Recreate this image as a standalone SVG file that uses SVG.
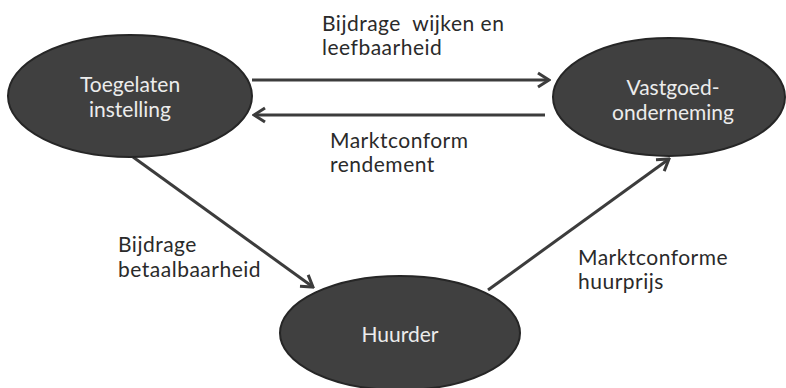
<svg xmlns="http://www.w3.org/2000/svg" width="786" height="388" viewBox="0 0 786 388">
<style>
.node{fill:#404040;stroke:#262626;stroke-width:2}
.nt{font-family:Lato,"Open Sans","Liberation Sans",sans-serif;font-size:21px;fill:#ececec;text-anchor:middle}
.lbl{font-family:Lato,"Open Sans","Liberation Sans",sans-serif;font-size:21px;letter-spacing:0.5px;fill:#2a2a2a}
.edge{stroke:#3c3c3c;stroke-width:3;fill:none}
</style>
<defs>
<marker id="arr" markerUnits="userSpaceOnUse" viewBox="-14 -9 16 18" refX="0" refY="0" markerWidth="16" markerHeight="18" orient="auto">
<path d="M-11,-7 L0,0 L-11,7" fill="none" stroke="#3c3c3c" stroke-width="3" stroke-linejoin="miter"/>
</marker>
</defs>
<rect width="786" height="388" fill="#ffffff"/>
<g id="connectors">
<line class="edge" x1="252" y1="80" x2="549" y2="80" marker-end="url(#arr)"/>
<line class="edge" x1="545" y1="115" x2="254" y2="115" marker-end="url(#arr)"/>
<line class="edge" x1="133" y1="157" x2="313" y2="287" marker-end="url(#arr)"/>
<line class="edge" x1="488" y1="290" x2="669" y2="159" marker-end="url(#arr)"/>
</g>
<g id="node-toegelaten">
<ellipse class="node" cx="130" cy="96" rx="122" ry="61"/>
<text class="nt" x="130" y="92">Toegelaten</text>
<text class="nt" x="130" y="117">instelling</text>
</g>
<g id="node-vastgoed">
<ellipse class="node" cx="669" cy="97" rx="116" ry="59"/>
<text class="nt" x="673" y="95">Vastgoed-</text>
<text class="nt" x="673" y="120">onderneming</text>
</g>
<g id="node-huurder">
<ellipse class="node" cx="400" cy="333" rx="120" ry="57"/>
<text class="nt" x="400" y="342">Huurder</text>
</g>
<g id="labels">
<text class="lbl" x="322" y="31" xml:space="preserve">Bijdrage  wijken en</text>
<text class="lbl" x="322" y="55">leefbaarheid</text>
<text class="lbl" x="330" y="148">Marktconform</text>
<text class="lbl" x="330" y="172">rendement</text>
<text class="lbl" x="118" y="252">Bijdrage</text>
<text class="lbl" x="118" y="277">betaalbaarheid</text>
<text class="lbl" x="578" y="265">Marktconforme</text>
<text class="lbl" x="578" y="289">huurprijs</text>
</g>
</svg>
